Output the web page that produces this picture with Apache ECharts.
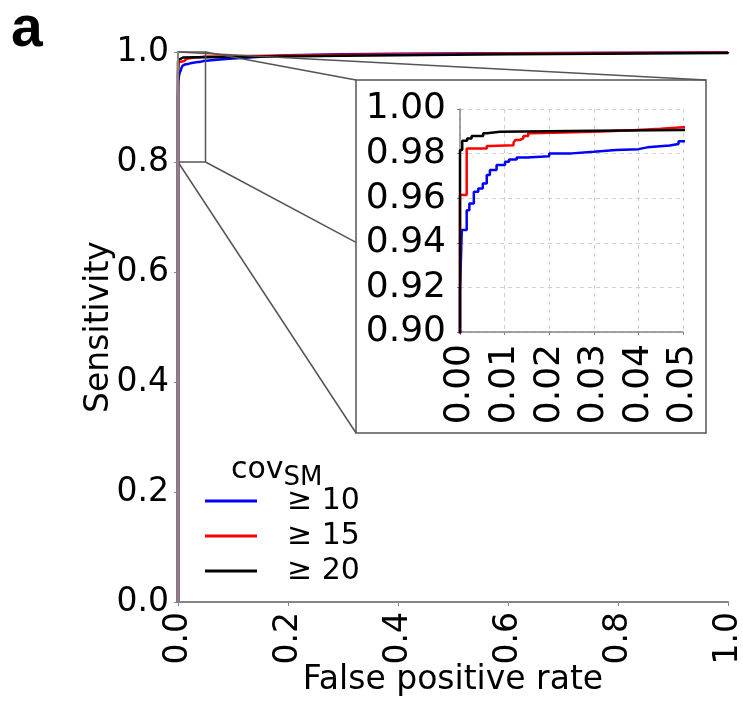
<!DOCTYPE html>
<html><head><meta charset="utf-8">
<script src="https://cdn.jsdelivr.net/npm/echarts@6/dist/echarts.min.js"></script>
<style>html,body{margin:0;padding:0;background:#fff}#c{width:743px;height:702px}</style>
</head><body><div id="c"></div>
<script>
// ---- data ----
const seriesNames = ['\u2265 10', '\u2265 15', '\u2265 20'];
const seriesColors = ['#0000ff', '#ff0000', '#000000'];
// ROC points: at fpr x, sensitivity jumps to y (step 'end')
const fprCov10 = [0, 0, 0.0004, 0.0015, 0.0021, 0.0031, 0.0041, 0.0051, 0.0060, 0.0067, 0.0082, 0.0101, 0.0110, 0.0127, 0.015, 0.020, 0.025, 0.030, 0.035, 0.040, 0.042, 0.047, 0.049, 0.050, 0.07, 0.10, 0.15, 0.20, 0.30, 0.40, 0.70, 1.0];
const tprCov10 = [0, 0.9183, 0.9457, 0.9546, 0.9576, 0.9629, 0.9644, 0.9666, 0.9704, 0.9726, 0.9749, 0.9763, 0.9774, 0.9783, 0.9788, 0.9801, 0.9808, 0.9816, 0.9820, 0.9828, 0.9836, 0.9843, 0.9855, 0.9860, 0.9880, 0.9915, 0.9940, 0.9960, 0.9970, 0.9980, 0.9990, 1.0];
const fprCov15 = [0, 0, 0.0015, 0.0060, 0.0068, 0.0120, 0.0124, 0.0134, 0.0142, 0.0153, 0.0160, 0.030, 0.0388, 0.045, 0.050, 0.10, 0.30, 0.60, 1.0];
const tprCov15 = [0, 0.9614, 0.9823, 0.9834, 0.9838, 0.9849, 0.9861, 0.9868, 0.9879, 0.9891, 0.9898, 0.9905, 0.9912, 0.9918, 0.9924, 0.9950, 0.9975, 0.9990, 1.0];
const fprCov20 = [0, 0, 0.0005, 0.0016, 0.0026, 0.0052, 0.0060, 0.0090, 0.030, 0.050, 0.10, 0.30, 0.60, 1.0];
const tprCov20 = [0, 0.9816, 0.9858, 0.9868, 0.9879, 0.9891, 0.9898, 0.9903, 0.9906, 0.9909, 0.9930, 0.9960, 0.9980, 1.0];
const mainTicks = [0, 0.2, 0.4, 0.6, 0.8, 1.0];
const insetXTicks = [0, 0.01, 0.02, 0.03, 0.04, 0.05];
const insetYTicks = [0.90, 0.92, 0.94, 0.96, 0.98, 1.00];
const zoomBox = {x0: 0, x1: 0.05, y0: 0.8, y1: 1.0};
const legendTitle = 'cov';
const legendSub = 'SM';
const panelLabel = 'a';
const xName = 'False positive rate';
const yName = 'Sensitivity';

// ---- chart ----
const FONT = 'DejaVu Sans';
const pairs = (xs, ys) => xs.map((x, i) => [x, ys[i]]);
const allData = [pairs(fprCov10, tprCov10), pairs(fprCov15, tprCov15), pairs(fprCov20, tprCov20)];
const axisGray = '#858585';

const chart = echarts.init(document.getElementById('c'), null, {renderer: 'canvas'});
const series = [];
allData.forEach((d, i) => {
  series.push({name: seriesNames[i], type: 'line', xAxisIndex: 0, yAxisIndex: 0, data: d, step: 'end',
    showSymbol: false, symbol: 'none', clip: true, animation: false,
    lineStyle: {color: seriesColors[i], width: 2.5}, itemStyle: {color: seriesColors[i]}, z: 1});
});
allData.forEach((d, i) => {
  series.push({name: seriesNames[i], type: 'line', xAxisIndex: 1, yAxisIndex: 1, data: d, step: 'end',
    showSymbol: false, symbol: 'none', clip: true, animation: false,
    lineStyle: {color: seriesColors[i], width: 2.5}, itemStyle: {color: seriesColors[i]}, z: 13 + i});
});

const option = {
  animation: false,
  backgroundColor: '#fff',
  grid: [
    {left: 178, top: 52, width: 550, height: 550, outerBoundsMode: 'none', containLabel: false},
    {left: 460, top: 109, width: 223, height: 223, outerBoundsMode: 'none', containLabel: false}
  ],
  xAxis: [
    {gridIndex: 0, type: 'value', min: mainTicks[0], max: mainTicks[mainTicks.length - 1], interval: 0.2, z: 5,
      name: xName, nameLocation: 'middle', nameGap: 62, nameMoveOverlap: false,
      nameTextStyle: {fontFamily: FONT, fontSize: 33, color: '#000'},
      axisLine: {show: true, onZero: false, lineStyle: {color: axisGray, width: 2}},
      axisTick: {show: true, length: 4, lineStyle: {color: axisGray}},
      splitLine: {show: false},
      axisLabel: {rotate: 90, margin: 10, fontFamily: FONT, fontSize: 33, color: '#000',
        formatter: v => v.toFixed(1)}},
    {gridIndex: 1, type: 'value', min: insetXTicks[0], max: insetXTicks[insetXTicks.length - 1], interval: 0.01, z: 10,
      axisLine: {show: true, onZero: false, lineStyle: {color: axisGray, width: 1.5}},
      axisTick: {show: true, length: 3, lineStyle: {color: axisGray}},
      splitLine: {show: true, lineStyle: {color: '#cfcfcf', type: [4, 4], width: 1}},
      axisLabel: {rotate: 90, margin: 12, fontFamily: FONT, fontSize: 36, color: '#000',
        formatter: v => v.toFixed(2)}}
  ],
  yAxis: [
    {gridIndex: 0, type: 'value', min: mainTicks[0], max: mainTicks[mainTicks.length - 1], interval: 0.2, z: 5,
      name: yName, nameLocation: 'middle', nameGap: 62, nameMoveOverlap: false,
      nameTextStyle: {fontFamily: FONT, fontSize: 33, color: '#000'},
      axisLine: {show: true, onZero: false, lineStyle: {color: axisGray, width: 2}},
      axisTick: {show: true, length: 4, lineStyle: {color: axisGray}},
      splitLine: {show: false},
      axisLabel: {margin: 9, fontFamily: FONT, fontSize: 33, color: '#000', formatter: v => v.toFixed(1)}},
    {gridIndex: 1, type: 'value', min: insetYTicks[0], max: insetYTicks[insetYTicks.length - 1], interval: 0.02, z: 10,
      axisLine: {show: true, onZero: false, lineStyle: {color: axisGray, width: 1.5}},
      axisTick: {show: true, length: 3, lineStyle: {color: axisGray}},
      splitLine: {show: true, lineStyle: {color: '#cfcfcf', type: [4, 4], width: 1}},
      axisLabel: {margin: 14, fontFamily: FONT, fontSize: 36, color: '#000', formatter: v => v.toFixed(2)}}
  ],
  legend: {
    data: seriesNames, orient: 'vertical', left: 200, top: 480,
    icon: 'rect', itemWidth: 52, itemHeight: 3, itemGap: 3,
    textStyle: {fontFamily: FONT, fontSize: 30, color: '#000', lineHeight: 32, padding: [0, 0, 0, 25]}
  },
  title: {
    text: '{a|' + legendTitle + '}{b|' + legendSub + '}', left: 226, top: 446,
    textStyle: {rich: {
      a: {fontFamily: FONT, fontSize: 30, fontWeight: 'normal', color: '#000', lineHeight: 34, verticalAlign: 'bottom'},
      b: {fontFamily: FONT, fontSize: 26, fontWeight: 'normal', color: '#000', lineHeight: 34, verticalAlign: 'bottom', padding: [0, 0, -6, 0]}
    }}
  },
  series: series
};
chart.setOption(option);

// frame, zoom box and connector lines computed from the axes
const p = (x, y) => chart.convertToPixel({gridIndex: 0}, [x, y]);
const q = (x, y) => chart.convertToPixel({gridIndex: 1}, [x, y]);
const bl = p(zoomBox.x0, zoomBox.y0), tr = p(zoomBox.x1, zoomBox.y1);
const iTL = q(insetXTicks[0], insetYTicks[insetYTicks.length - 1]);
const iBR = q(insetXTicks[insetXTicks.length - 1], insetYTicks[0]);
const fL = iTL[0] - 104, fT = iTL[1] - 29, fR = iBR[0] + 23, fB = iBR[1] + 101;
const lineStyle = {stroke: '#555', lineWidth: 1.5};
chart.setOption({
  graphic: [
    {type: 'rect', shape: {x: bl[0], y: tr[1], width: tr[0] - bl[0], height: bl[1] - tr[1]}, style: {fill: 'none', stroke: '#555', lineWidth: 1.5}, z: 2},
    {type: 'rect', shape: {x: fL, y: fT, width: fR - fL, height: fB - fT}, style: {fill: 'none', stroke: '#555', lineWidth: 1.5}, z: 2},
    {type: 'line', shape: {x1: tr[0], y1: tr[1], x2: fL, y2: fT}, style: lineStyle, z: 2},
    {type: 'line', shape: {x1: bl[0], y1: tr[1], x2: fR, y2: fT}, style: lineStyle, z: 2},
    {type: 'line', shape: {x1: tr[0], y1: bl[1], x2: fL, y2: fT + (fB - fT) * 0.46}, style: lineStyle, z: 2},
    {type: 'line', shape: {x1: bl[0], y1: bl[1], x2: fL, y2: fB}, style: lineStyle, z: 2},
    {type: 'text', left: 11, top: 2, style: {text: panelLabel, font: 'bold 57px "Liberation Sans"', fill: '#000'}, z: 20}
  ]
});
</script></body></html>
